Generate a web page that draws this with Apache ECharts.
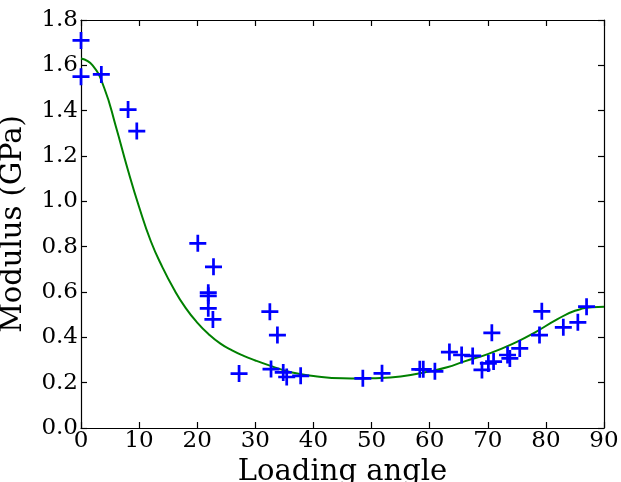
<!DOCTYPE html>
<html>
<head>
<meta charset="utf-8">
<script src="https://cdn.jsdelivr.net/npm/echarts@6/dist/echarts.min.js"></script>
<style>html,body{margin:0;padding:0;background:#fff}#c{width:621px;height:482px}</style>
</head>
<body>
<div id="c"></div>
<script>
// Measured data (loading angle in degrees, modulus in GPa)
const measAngle = [0, 0, 3.5, 8.1, 9.6, 20.1, 22.8, 21.9, 21.9, 21.9, 22.7, 27.2, 32.5, 33.8, 32.7, 34.8, 35.4, 37.8, 48.5, 51.8, 58.3, 58.9, 60.9, 63.4, 65.5, 67.4, 69.0, 70.1, 70.7, 71.0, 73.4, 73.8, 75.5, 78.9, 79.3, 83.0, 85.5, 87.0];
const measModulus = [1.71, 1.55, 1.56, 1.405, 1.31, 0.815, 0.711, 0.597, 0.583, 0.528, 0.479, 0.24, 0.513, 0.41, 0.26, 0.245, 0.225, 0.23, 0.219, 0.241, 0.259, 0.259, 0.25, 0.335, 0.322, 0.318, 0.256, 0.285, 0.42, 0.293, 0.322, 0.307, 0.351, 0.41, 0.515, 0.444, 0.466, 0.535];
// Fitted curve
const fitAngle = [0, 2, 4, 6, 8, 10, 12, 14, 16, 18, 20, 22, 24, 26, 28, 30, 32.5, 35, 37.5, 40, 45, 48, 50, 55, 60, 63, 66, 70, 75, 78, 82, 85, 88, 90];
const fitModulus = [1.63, 1.60, 1.50, 1.33, 1.145, 0.975, 0.825, 0.71, 0.612, 0.53, 0.465, 0.413, 0.372, 0.342, 0.318, 0.298, 0.275, 0.254, 0.239, 0.229, 0.219, 0.218, 0.219, 0.227, 0.25, 0.268, 0.294, 0.326, 0.38, 0.42, 0.48, 0.517, 0.533, 0.535];
const xTicks = [0, 10, 20, 30, 40, 50, 60, 70, 80, 90];
const yTicks = [0.0, 0.2, 0.4, 0.6, 0.8, 1.0, 1.2, 1.4, 1.6, 1.8];

const chart = echarts.init(document.getElementById('c'));
const font = 'DejaVu Serif';
const line = {show: true, onZero: false, lineStyle: {color: '#000', width: 1.2}};
const ticks = {show: true, inside: true, length: 6, lineStyle: {color: '#000', width: 1.2}};
const plus = 'path://M4.2,0 H5.8 V4.2 H10 V5.8 H5.8 V10 H4.2 V5.8 H0 V4.2 H4.2 Z';
chart.setOption({
  animation: false,
  backgroundColor: '#fff',
  grid: {left: 81, right: 17, top: 20, bottom: 54, containLabel: false, outerBoundsMode: 'none'},
  xAxis: [{
    type: 'value', min: 0, max: 90, interval: 10,
    name: 'Loading angle', nameLocation: 'middle', nameGap: 28,
    nameTextStyle: {fontFamily: font, fontSize: 29, color: '#000', verticalAlign: 'top'},
    axisLine: line, axisTick: ticks, splitLine: {show: false},
    axisLabel: {fontFamily: font, fontSize: 23, color: '#000', margin: 2,
      formatter: v => xTicks.includes(v) ? String(v) : ''}
  }, {
    type: 'value', min: 0, max: 90, interval: 10, position: 'top',
    axisLine: line, axisTick: ticks, axisLabel: {show: false}, splitLine: {show: false}
  }],
  yAxis: [{
    type: 'value', min: 0, max: 1.8, interval: 0.2,
    name: 'Modulus (GPa)', nameLocation: 'middle', nameGap: 53,
    nameTextStyle: {fontFamily: font, fontSize: 29, color: '#000'},
    axisLine: line, axisTick: ticks, splitLine: {show: false},
    axisLabel: {fontFamily: font, fontSize: 23, color: '#000', margin: 3,
      formatter: v => { const t = yTicks.find(y => Math.abs(y - v) < 1e-6); return t === undefined ? '' : t.toFixed(1); }}
  }, {
    type: 'value', min: 0, max: 1.8, interval: 0.2, position: 'right',
    axisLine: line, axisTick: ticks, axisLabel: {show: false}, splitLine: {show: false}
  }],
  series: [{
    type: 'line', smooth: 0.5, showSymbol: false, symbol: 'none',
    data: fitAngle.map((a, i) => [a, fitModulus[i]]),
    lineStyle: {color: '#008000', width: 2}, z: 2
  }, {
    type: 'scatter', symbol: plus, symbolSize: 17,
    data: measAngle.map((a, i) => [a, measModulus[i]]),
    itemStyle: {color: '#0000ff', opacity: 1}, z: 3
  }]
});
</script>
</body>
</html>
